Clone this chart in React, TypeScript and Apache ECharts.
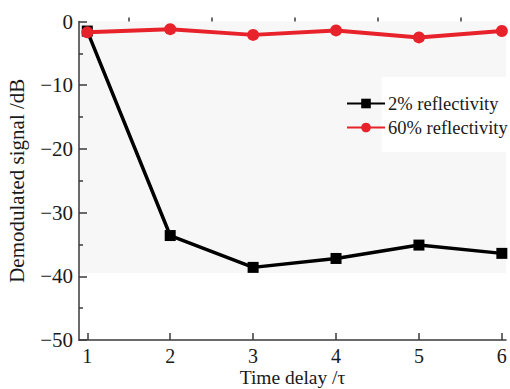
import React, { useEffect, useRef } from "react";
import * as echarts from "echarts";

const delays = [1, 2, 3, 4, 5, 6];
const refl2 = [-1.5, -33.6, -38.6, -37.2, -35.1, -36.4];
const refl60 = [-1.7, -1.2, -2.1, -1.4, -2.5, -1.5];
const seriesNames = ["2% reflectivity", "60% reflectivity"];
const majorX = [1, 2, 3, 4, 5, 6];
const minorX = [1.5, 2.5, 3.5, 4.5, 5.5];

const FONT = "Liberation Serif";

export default function App() {
  const ref = useRef<HTMLDivElement>(null);
  useEffect(() => {
    if (!ref.current) return;
    const chart = echarts.init(ref.current, undefined, { renderer: "svg" });
    const axisColor = "#3a3a3a";
    chart.setOption({
      animation: false,
      backgroundColor: "#ffffff",
      textStyle: { fontFamily: FONT },
      grid: { left: 79, right: 4, top: 21.5, bottom: 49, containLabel: false, outerBoundsMode: "none" },
      legend: {
        orient: "vertical",
        left: 341,
        top: 89,
        itemWidth: 38,
        itemHeight: 12,
        itemGap: 5,
        data: seriesNames,
        textStyle: { fontFamily: FONT, fontSize: 18.5, color: "#1a1a1a", padding: [0, 0, 0, -2] },
      },
      xAxis: [
        {
          type: "value",
          min: 0.9,
          max: 6.05,
          name: "Time delay /τ",
          nameLocation: "middle",
          nameGap: 27,
          nameMoveOverlap: false,
          nameTextStyle: { fontFamily: FONT, fontSize: 19.5, lineHeight: 20, color: "#1a1a1a" },
          axisLine: { show: true, onZero: false, lineStyle: { color: axisColor, width: 1.5 } },
          axisTick: { show: true, inside: true, length: 7, customValues: majorX, lineStyle: { color: axisColor, width: 1.5 } },
          axisLabel: { customValues: majorX, margin: 6, fontFamily: FONT, fontSize: 20, lineHeight: 20, color: "#1a1a1a" },
          splitLine: { show: false },
        },
        {
          type: "value",
          min: 0.9,
          max: 6.05,
          position: "bottom",
          axisLine: { show: false },
          axisTick: { show: true, inside: true, length: 4, customValues: minorX, lineStyle: { color: axisColor, width: 1.5 } },
          axisLabel: { show: false },
          splitLine: { show: false },
        },
      ],
      yAxis: {
        type: "value",
        min: -50,
        max: 0,
        interval: 10,
        name: "Demodulated signal /dB",
        nameLocation: "middle",
        nameGap: 52,
        nameMoveOverlap: false,
        nameTextStyle: { fontFamily: FONT, fontSize: 21, color: "#1a1a1a" },
        axisLine: { show: true, onZero: false, lineStyle: { color: axisColor, width: 1.5 } },
        axisTick: { show: true, inside: true, length: 8, lineStyle: { color: axisColor, width: 1.5 } },
        minorTick: { show: true, splitNumber: 2, length: 4, lineStyle: { color: axisColor, width: 1.5 } },
        axisLabel: {
          margin: 6,
          fontFamily: FONT,
          fontSize: 21,
          color: "#1a1a1a",
          formatter: (v: number) => String(v).replace("-", "\u2212"),
        },
        splitLine: { show: false },
      },
      series: [
        {
          name: seriesNames[0],
          type: "line",
          data: delays.map((d, i) => [d, refl2[i]]),
          symbol: "rect",
          symbolSize: 11,
          lineStyle: { color: "#000000", width: 3.5 },
          itemStyle: { color: "#000000" },
          markArea: {
            silent: true,
            z: -1,
            data: [
              [
                { coord: [0.9, 0], itemStyle: { color: "#f7f7f7" } },
                { coord: [6.05, -39.5] },
              ],
              [
                { coord: [4.55, -8.7], itemStyle: { color: "#ffffff" } },
                { coord: [6.05, -20.5] },
              ],
            ],
          },
        },
        {
          name: seriesNames[1],
          type: "line",
          data: delays.map((d, i) => [d, refl60[i]]),
          symbol: "circle",
          symbolSize: 12,
          lineStyle: { color: "#e8222b", width: 4 },
          itemStyle: { color: "#e8222b" },
        },
      ],
    });
    return () => chart.dispose();
  }, []);
  return <div ref={ref} style={{ width: 510, height: 389, position: "absolute", left: 0, top: 0 }} />;
}
